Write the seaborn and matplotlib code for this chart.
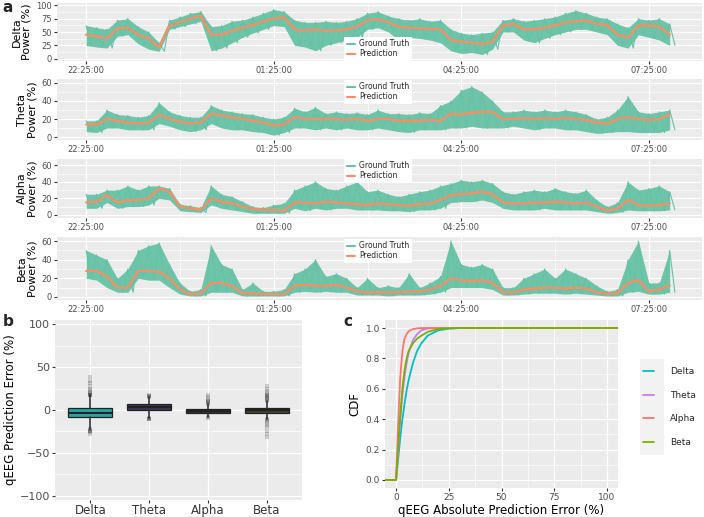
import numpy as np
import pandas as pd
import matplotlib
matplotlib.use("Agg")
import matplotlib.pyplot as plt
import seaborn as sns
from matplotlib.patches import Rectangle
from matplotlib.ticker import FixedLocator

# ---- panel a: readings every 10 min after 22:25:00 ----
minutes = list(range(0, 570, 10))
time_ticks = [0, 180, 360, 540]
time_labels = ["22:25:00", "01:25:00", "04:25:00", "07:25:00"]

delta_pred = [45, 42, 38, 57, 58, 45, 38, 21, 62, 68, 75, 80, 45, 45, 52, 58, 63, 70, 75, 77,
              55, 52, 55, 52, 53, 55, 60, 72, 74, 68, 60, 58, 57, 56, 55, 35, 32, 30, 28, 32,
              62, 65, 55, 55, 58, 62, 68, 70, 72, 65, 62, 45, 40, 62, 62, 60, 45]
delta_lo = [25, 22, 20, 42, 45, 28, 18, 14, 55, 60, 65, 70, 15, 20, 30, 40, 48, 55, 62, 60,
            25, 22, 15, 25, 30, 35, 40, 55, 58, 50, 35, 40, 38, 35, 30, 15, 10, 12, 8, 18,
            50, 50, 35, 30, 38, 45, 50, 55, 55, 50, 45, 25, 20, 45, 40, 35, 25]
delta_hi = [62, 58, 55, 72, 75, 60, 50, 30, 72, 78, 85, 88, 60, 62, 70, 72, 78, 85, 92, 88,
            72, 68, 68, 70, 68, 70, 75, 85, 88, 80, 75, 72, 75, 70, 72, 55, 48, 45, 48, 50,
            72, 75, 70, 72, 75, 78, 85, 90, 85, 78, 75, 65, 58, 75, 72, 75, 65]

theta_pred = [14, 14, 20, 18, 16, 15, 16, 25, 20, 17, 15, 16, 26, 24, 22, 20, 18, 16, 13, 14,
              22, 20, 20, 20, 20, 19, 20, 18, 20, 20, 18, 18, 18, 19, 18, 26, 25, 27, 28, 28,
              20, 20, 21, 20, 21, 20, 21, 20, 19, 16, 15, 20, 22, 20, 19, 20, 25]
theta_lo = [6, 5, 10, 10, 8, 8, 8, 15, 12, 8, 6, 8, 15, 10, 8, 8, 6, 5, 2, 5,
            10, 10, 8, 10, 8, 10, 8, 8, 10, 8, 6, 5, 8, 8, 8, 10, 10, 12, 10, 10,
            10, 12, 10, 8, 10, 10, 8, 8, 6, 4, 5, 6, 6, 5, 5, 5, 8]
theta_hi = [18, 18, 30, 25, 24, 22, 24, 38, 28, 24, 22, 22, 35, 30, 28, 26, 25, 22, 20, 22,
            32, 28, 33, 26, 28, 26, 27, 25, 30, 26, 26, 25, 27, 26, 35, 40, 52, 56, 50, 40,
            28, 28, 30, 28, 30, 28, 30, 28, 25, 20, 22, 30, 45, 28, 26, 28, 30]

alpha_pred = [15, 16, 24, 15, 18, 18, 20, 32, 28, 10, 8, 6, 20, 16, 14, 10, 7, 6, 6, 5,
              15, 15, 14, 16, 15, 14, 13, 12, 14, 13, 12, 11, 13, 14, 18, 24, 25, 26, 28, 25,
              15, 14, 14, 15, 15, 16, 15, 14, 15, 10, 5, 8, 18, 12, 11, 12, 14]
alpha_lo = [8, 8, 15, 8, 10, 10, 12, 20, 18, 5, 4, 3, 12, 8, 6, 4, 2, 2, 2, 2,
            8, 5, 8, 6, 8, 8, 6, 6, 6, 5, 5, 4, 6, 6, 8, 15, 16, 16, 18, 15,
            8, 6, 6, 6, 8, 6, 6, 6, 6, 4, 2, 3, 6, 5, 5, 5, 6]
alpha_hi = [25, 25, 30, 30, 35, 30, 35, 35, 32, 13, 11, 9, 35, 25, 22, 16, 10, 9, 12, 14,
            30, 35, 40, 32, 30, 35, 40, 28, 30, 25, 22, 25, 28, 30, 35, 38, 42, 40, 42, 38,
            28, 25, 28, 30, 28, 32, 28, 26, 30, 18, 10, 15, 40, 30, 32, 35, 28]

beta_pred = [28, 28, 22, 10, 10, 28, 28, 27, 20, 8, 3, 4, 15, 15, 12, 4, 4, 3, 3, 3,
             12, 13, 12, 12, 13, 10, 6, 5, 5, 5, 5, 6, 6, 8, 12, 20, 18, 17, 18, 15,
             5, 5, 8, 9, 10, 10, 9, 10, 9, 5, 3, 4, 15, 18, 6, 8, 12]
beta_lo = [20, 18, 10, 5, 5, 20, 18, 18, 10, 3, 1, 1, 5, 5, 5, 1, 1, 1, 1, 1,
           5, 6, 5, 6, 5, 5, 2, 2, 2, 1, 2, 2, 2, 3, 5, 10, 10, 10, 10, 8,
           2, 2, 3, 4, 4, 4, 3, 4, 3, 2, 1, 1, 5, 6, 3, 3, 5]
beta_hi = [50, 45, 40, 20, 30, 50, 55, 58, 35, 15, 6, 8, 55, 35, 30, 8, 15, 6, 6, 8,
           25, 30, 40, 22, 25, 20, 10, 20, 10, 12, 10, 25, 10, 15, 22, 60, 35, 32, 35, 30,
           10, 10, 20, 25, 30, 20, 30, 25, 20, 12, 6, 8, 40, 60, 15, 15, 50]

bands = ["Delta", "Theta", "Alpha", "Beta"]
series = {
    "Delta": (delta_pred, delta_lo, delta_hi),
    "Theta": (theta_pred, theta_lo, theta_hi),
    "Alpha": (alpha_pred, alpha_lo, alpha_hi),
    "Beta": (beta_pred, beta_lo, beta_hi),
}

# ---- panel b: box statistics of prediction error (%) ----
box_q1 = [-8.5, 0.5, -3, -3]
box_med = [-3, 3.5, -1, 0]
box_q3 = [2.5, 6.5, 1.5, 2.5]
box_lo = [-22, -9, -8, -11]
box_hi = [17, 15, 7, 11]
outliers = {
    "Delta": [17, 18, 18, 19, 20, 21, 23, 25, 28, 31, 34, 38, -22, -23, -24, -25, -26, -28],
    "Theta": [15, 16, 16, 17, -9, -10, -10, -11],
    "Alpha": [7, 8, 9, 10, 11, 13, 15, 18, -8, -9],
    "Beta": [11, 12, 13, 14, 15, 16, 17, 18, 20, 22, 25, 28,
             -11, -12, -13, -15, -17, -20, -24, -28, -31],
}
box_colors = ["#2AA2A3", "#3B3450", "#2F3332", "#3E4331"]

# ---- panel c: CDF of absolute prediction error ----
cdf_x = [-5, 0, 1, 2, 3, 4, 5, 6, 8, 10, 12, 15, 20, 25, 30, 105]
cdf_delta = [0, 0, 0.14, 0.28, 0.40, 0.50, 0.59, 0.66, 0.77, 0.85, 0.90, 0.95, 0.985, 0.996, 1, 1]
cdf_theta = [0, 0, 0.20, 0.40, 0.56, 0.68, 0.77, 0.84, 0.92, 0.96, 0.985, 0.997, 1, 1, 1, 1]
cdf_alpha = [0, 0, 0.38, 0.68, 0.85, 0.93, 0.96, 0.98, 0.993, 0.998, 1, 1, 1, 1, 1, 1]
cdf_beta = [0, 0, 0.22, 0.43, 0.60, 0.72, 0.80, 0.85, 0.90, 0.93, 0.95, 0.975, 0.993, 0.998, 1, 1]
cdf_colors = {"Delta": "#00BFC4", "Theta": "#C77CFF", "Alpha": "#F8766D", "Beta": "#7CAE00"}

GT_COLOR = "#66C2A5"
PRED_COLOR = "#FC8D62"
W, H = 704, 517

sns.set_theme(style="darkgrid", rc={"xtick.bottom": True, "ytick.left": True})
plt.rcParams["font.family"] = ["DejaVu Sans"]


def px_rect(left, top, right, bottom):
    return [left / W, 1 - bottom / H, (right - left) / W, (bottom - top) / H]


def gg_style(ax, size):
    ax.set_facecolor("#EBEBEB")
    for s in ax.spines.values():
        s.set_visible(False)
    ax.grid(which="major", color="white", lw=0.9)
    ax.grid(which="minor", color="white", lw=0.45)
    ax.tick_params(which="major", length=2.5, width=0.8, color="#333333",
                   labelcolor="#4D4D4D", labelsize=size, pad=1.2)
    ax.tick_params(which="minor", length=0)
    ax.set_axisbelow(True)


fig = plt.figure(figsize=(7.04, 5.17), dpi=100)

# panel a
rects_a = [(57, 3, 702, 61), (57, 79, 702, 140), (57, 159, 702, 218), (57, 237, 702, 300)]
ylims_a = [(-4, 104), (-3.3, 64.4), (-3.7, 67.5), (-3.3, 64.4)]
yticks_a = [[0, 25, 50, 75, 100], [0, 20, 40, 60], [0, 20, 40, 60], [0, 20, 40, 60]]
leg_y = [0.21, 0.79, 0.80, 0.78]

for i, band in enumerate(bands):
    pred, lo, hi = series[band]
    ax = fig.add_axes(px_rect(*rects_a[i]))
    gt_x, gt_y = [], []
    for m, l, h in zip(minutes, lo, hi):
        gt_x += [m, m + 5]
        gt_y += [h, l]
    gt_df = pd.DataFrame({"minute": gt_x, "power": gt_y})
    pred_df = pd.DataFrame({"minute": minutes, "power": pred})
    # dense ground-truth band between the read low/high envelopes
    ax.fill_between(minutes, lo, hi, color=GT_COLOR, lw=0, alpha=0.95)
    sns.lineplot(data=gt_df, x="minute", y="power", color=GT_COLOR, lw=0.8,
                 estimator=None, sort=False, ax=ax, label="Ground Truth")
    sns.lineplot(data=pred_df, x="minute", y="power", color=PRED_COLOR, lw=1.6,
                 estimator=None, sort=False, ax=ax, label="Prediction")
    ax.set_xlim(-28, 591)
    ax.set_ylim(*ylims_a[i])
    ax.set_xticks(time_ticks)
    ax.set_xticklabels(time_labels)
    ax.xaxis.set_minor_locator(FixedLocator([90, 270, 450]))
    yt = yticks_a[i]
    ax.set_yticks(yt)
    step = yt[1] - yt[0]
    ax.yaxis.set_minor_locator(FixedLocator([v + step / 2 for v in yt]))
    gg_style(ax, 6)
    ax.set_xlabel("")
    ax.set_ylabel(f"{band}\nPower (%)", fontsize=8, color="black", labelpad=3, linespacing=1.0)
    leg = ax.legend(loc="center", bbox_to_anchor=(0.498, leg_y[i]), fontsize=5.5, frameon=True,
                    facecolor="white", edgecolor="none", framealpha=1, fancybox=False,
                    handlelength=1.0, handletextpad=0.6, labelspacing=0.15, borderpad=0.35)
    for ln in leg.get_lines():
        ln.set_linewidth(1.5)

# panel b
ax_b = fig.add_axes(px_rect(55, 320, 302, 500))
stats = []
for j, band in enumerate(bands):
    stats.append(dict(label=band, q1=box_q1[j], med=box_med[j], q3=box_q3[j],
                      whislo=box_lo[j], whishi=box_hi[j], fliers=[]))
out_df = pd.DataFrame([(b, v) for b in bands for v in outliers[b]], columns=["band", "error"])
sns.stripplot(data=out_df, x="band", y="error", order=bands, jitter=False, color="#1A1A1A",
              alpha=0.18, marker="s", size=3.5, ax=ax_b, zorder=3)
bp = ax_b.bxp(stats, positions=range(4), widths=0.75, patch_artist=True, showfliers=False,
              showcaps=False,
              boxprops=dict(edgecolor="#222222", linewidth=0.9),
              medianprops=dict(color="#222222", linewidth=1.4),
              whiskerprops=dict(color="#333333", linewidth=1.2))
for patch, c in zip(bp["boxes"], box_colors):
    patch.set_facecolor(c)
ax_b.set_xlim(-0.6, 3.6)
ax_b.set_ylim(-105, 105)
ax_b.set_xticks(range(4))
ax_b.set_xticklabels(bands)
ax_b.set_yticks([-100, -50, 0, 50, 100])
ax_b.set_yticklabels(["\u2212100", "\u221250", "0", "50", "100"])
ax_b.yaxis.set_minor_locator(FixedLocator([-75, -25, 25, 75]))
gg_style(ax_b, 8)
ax_b.tick_params(axis="x", labelsize=8.5, labelcolor="#333333", pad=0.5)
ax_b.set_xlabel("")
ax_b.set_ylabel("qEEG Prediction Error (%)", fontsize=8.5, color="black", labelpad=2)

# panel c
ax_c = fig.add_axes(px_rect(385, 320, 618, 488))
cdf_df = pd.DataFrame({
    "error": cdf_x * 4,
    "cdf": cdf_delta + cdf_theta + cdf_alpha + cdf_beta,
    "band": [b for b in bands for _ in cdf_x],
})
sns.lineplot(data=cdf_df, x="error", y="cdf", hue="band", hue_order=bands, palette=cdf_colors,
             lw=1.3, estimator=None, sort=False, ax=ax_c)
ax_c.set_xlim(-5.25, 105.25)
ax_c.set_ylim(-0.053, 1.053)
ax_c.set_xticks([0, 25, 50, 75, 100])
ax_c.xaxis.set_minor_locator(FixedLocator([12.5, 37.5, 62.5, 87.5]))
ax_c.set_yticks([0, 0.2, 0.4, 0.6, 0.8, 1.0])
ax_c.set_yticklabels(["0.0", "0.2", "0.4", "0.6", "0.8", "1.0"])
ax_c.yaxis.set_minor_locator(FixedLocator([0.1, 0.3, 0.5, 0.7, 0.9]))
gg_style(ax_c, 6.5)
ax_c.set_xlabel("qEEG Absolute Prediction Error (%)", fontsize=8.5, color="black", labelpad=1)
ax_c.set_ylabel("CDF", fontsize=8.5, color="black", labelpad=3)
handles, labels = ax_c.get_legend_handles_labels()
ax_c.get_legend().remove()
fig.add_artist(Rectangle((640 / W, 1 - 455 / H), 24 / W, 96 / H, transform=fig.transFigure,
                         facecolor="#F2F2F2", edgecolor="none", zorder=-1))
fig.legend(handles, labels, loc="center left", bbox_to_anchor=(643 / W, 1 - 407 / H),
           bbox_transform=fig.transFigure, frameon=False, fontsize=6.5, handlelength=1.25,
           handletextpad=1.7, labelspacing=1.6, borderpad=0, borderaxespad=0)

fig.text(2 / W, 1 - 7 / H, "a", fontsize=11, fontweight="bold", va="center")
fig.text(3 / W, 1 - 321 / H, "b", fontsize=11, fontweight="bold", va="center")
fig.text(343 / W, 1 - 321 / H, "c", fontsize=11, fontweight="bold", va="center")

fig.savefig("out.png", dpi=100)
